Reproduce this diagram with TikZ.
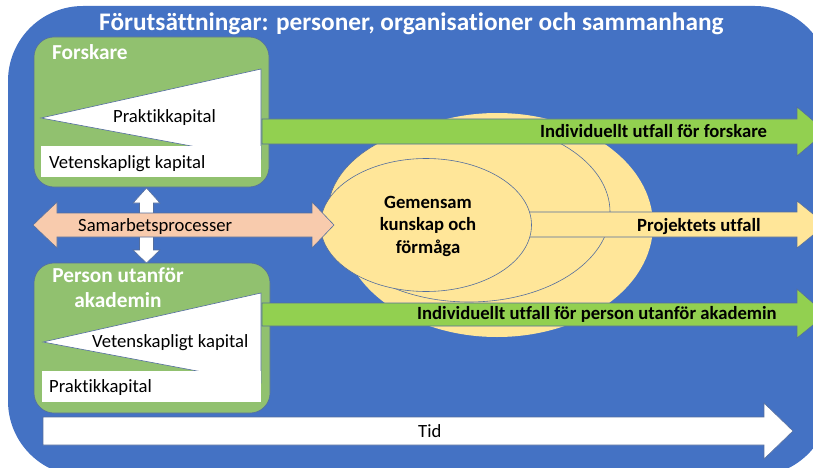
\documentclass[tikz,border=0pt]{standalone}
\usepackage{fontspec}
\setmainfont{Carlito}[Ligatures={NoCommon}]
\definecolor{bgblue}{RGB}{68,114,196}
\definecolor{boxgreen}{RGB}{145,193,111}
\definecolor{arrowgreen}{RGB}{146,208,80}
\definecolor{softyellow}{RGB}{255,230,153}
\definecolor{peach}{RGB}{248,203,173}
\definecolor{edgeblue}{RGB}{84,110,158}
\begin{document}
\begin{tikzpicture}[x=1pt,y=-1pt,
  edge/.style={draw=edgeblue,line width=0.6pt},
  txt/.style={font=\fontsize{18.67}{22.5}\selectfont,inner sep=0pt,text=black},
  txtb/.style={font=\fontsize{18.67}{22.5}\selectfont\bfseries,inner sep=0pt,text=black},
  boxlabel/.style={font=\fontsize{21.33}{25}\selectfont\bfseries,inner sep=0pt,text=white}]
\clip (0,0) rectangle (813,468);

% Background
\fill[bgblue,rounded corners=75pt] (8,6) rectangle (830,476);
\node[inner sep=0pt,font=\fontsize{25.3}{30}\selectfont\bfseries,text=white,anchor=base west] (title) at (99,31) {Förutsättningar: personer, organisationer och sammanhang};

% Forskare
\draw[edge,fill=boxgreen,rounded corners=20pt] (34,37) rectangle (269,187);
\draw[edge,fill=white] (261,69) -- (41,118) -- (261,159) -- cycle;
\fill[white] (41,146) rectangle (261,177);
\node[boxlabel,anchor=base west] (forskare) at (52,60) {Forskare};
\node[txt,anchor=base west] (prakt1) at (113,122) {Praktikkapital};
\node[txt,anchor=base west] (vet1) at (49,168) {Vetenskapligt kapital};

% Person utanfor akademin
\draw[edge,fill=boxgreen,rounded corners=20pt] (34,263) rectangle (270,413);
\draw[edge,fill=white] (261,293) -- (43,342) -- (261,383) -- cycle;
\fill[white] (42,371) rectangle (261,402);
\node[boxlabel,align=center,anchor=base] (person) at (118,307) {Person utanför\\akademin};
\node[txt,anchor=base west] (vet2) at (92,347) {Vetenskapligt kapital};
\node[txt,anchor=base west] (prakt2) at (49,392) {Praktikkapital};

% Ellipses
\fill[softyellow] (497,225) ellipse [x radius=156,y radius=112];
\draw[edge,fill=softyellow] (469,212) ellipse [x radius=141,y radius=90];
\draw[edge,fill=softyellow] (520,212) -- (797,212) -- (797,201) -- (826,224.5) -- (797,248) -- (797,237) -- (520,237) -- cycle;
\draw[edge,fill=softyellow] (426,225) ellipse [x radius=105.5,y radius=66.5];
\node[txtb,align=center,anchor=base] (gemensam) at (428,253) {Gemensam\\kunskap och\\förmåga};
\node[txtb,anchor=base west] (projekt) at (637,231) {Projektets utfall};

% Outcome arrows
\draw[edge,fill=arrowgreen] (262,119) -- (797,119) -- (797,107) -- (826,131.5) -- (797,156) -- (797,144) -- (262,144) -- cycle;
\draw[edge,fill=arrowgreen] (262,303) -- (797,303) -- (797,289) -- (826,314.5) -- (797,338) -- (797,326) -- (262,326) -- cycle;
\node[txtb,anchor=base west] (utfallF) at (540,137.5) {Individuellt utfall för forskare};
\node[txtb,anchor=base west] (utfallP) at (417,319) {Individuellt utfall för person utanför akademin};

% Samarbete
\draw[edge,fill=white] (146.5,188) -- (160,203) -- (153.5,203) -- (153.5,250) -- (160,250) -- (146.5,263) -- (133,250) -- (139.5,250) -- (139.5,203) -- (133,203) -- cycle;
\draw[edge,fill=peach] (33,225) -- (57,202) -- (57,213) -- (312,213) -- (312,202) -- (334,225) -- (312,248) -- (312,237) -- (57,237) -- (57,248) -- cycle;
\node[txt,anchor=base west] (samarbete) at (78,231) {Samarbetsprocesser};

% Tid
\draw[edge,fill=white] (43,417) -- (764,417) -- (764,403) -- (793,431) -- (764,459) -- (764,445) -- (43,445) -- cycle;
\node[txt,anchor=base west] (tid) at (418,437) {Tid};
\end{tikzpicture}
\end{document}
